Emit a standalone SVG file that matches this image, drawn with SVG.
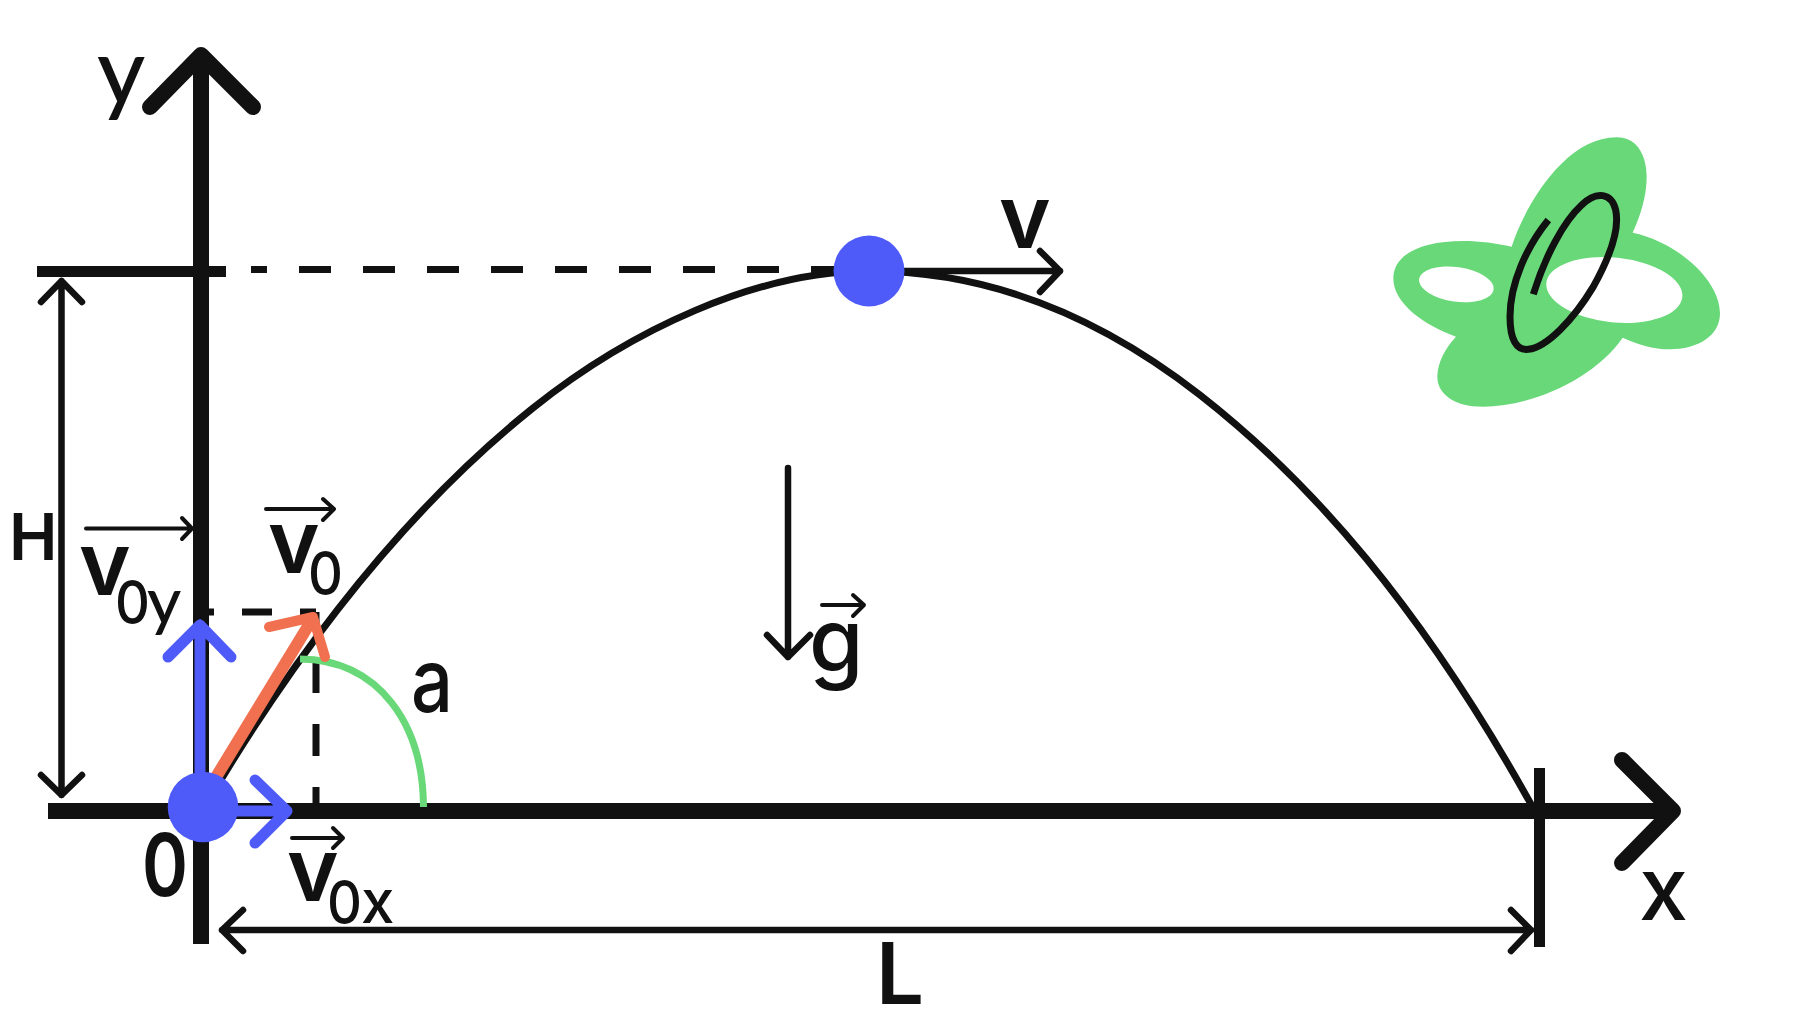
<svg xmlns="http://www.w3.org/2000/svg" width="1808" height="1030" viewBox="0 0 1808 1030">
<style>
.k{fill:none;stroke:#111;stroke-linecap:round;stroke-linejoin:round}
.b{fill:none;stroke:#111;stroke-linecap:butt}
.t{fill:#111;font-family:"Inter","Noto Sans","Liberation Sans",sans-serif;font-weight:600}
.m{fill:#111;font-family:"Inter","Noto Sans","Liberation Sans",sans-serif;font-weight:500}
.l{fill:#111;font-family:"Lato","Inter","Liberation Sans",sans-serif;font-weight:500}
.blue{fill:none;stroke:#4f5bf9;stroke-width:11;stroke-linecap:round;stroke-linejoin:round}
.ball{fill:#4f5bf9}
</style>
<rect width="1808" height="1030" fill="#fff"/>
<g id="logo">
<g transform="translate(1360,110) scale(0.33333)">
<path fill="#68d878" d="M455,410 C490,300 610,82 770,82 C840,82 860,150 860,200 C860,260 840,320 818,368 C950,395 1080,510 1080,610 C1080,680 1010,718 930,718 C880,718 830,702 788,683 C700,810 510,890 370,890 C280,890 232,850 232,800 C232,760 255,715 288,680 C190,645 100,580 100,505 C100,430 190,393 310,393 C360,393 410,400 455,410 Z"/>
<ellipse cx="289" cy="523" rx="113" ry="52" transform="rotate(8 289 523)" fill="#fff"/>
<ellipse cx="763" cy="540" rx="205" ry="97" transform="rotate(6 763 540)" fill="#fff"/>
<path fill="none" stroke="#111" stroke-width="21" d="M565,330 C500,410 450,520 450,620 C450,690 470,722 505,718 C560,712 640,630 700,530 C750,440 780,360 767,300 C755,250 710,240 665,285 C610,335 555,440 520,553"/>
</g>
</g>
<g id="connectors">
<path id="trajectory" class="b" stroke-width="7" d="M204,808 C313.7,621.5 423.3,495.8 533,408 C630,330.4 757,271 869,271 C979,271 1090,309 1200,395 C1310.7,481.5 1421.3,607 1532,806"/>
<path id="y-axis" class="b" stroke-width="16" d="M201,55 V944"/>
<path class="k" stroke-width="16" d="M150,107 L201,55 L253,107"/>
<path id="x-axis" class="b" stroke-width="16" d="M48,811 H1673"/>
<path class="k" stroke-width="16" d="M1622,760 L1673,811 L1622,863"/>
<path id="h-bar" class="b" stroke-width="11" d="M37,271.5 H226"/>
<path id="l-bar" class="b" stroke-width="11" d="M1539.5,768 V947"/>
<path id="top-dash" class="b" stroke-width="7" stroke-dasharray="32 32" stroke-dashoffset="16" d="M251,269.5 H843"/>
<path id="v0-dash-h" class="b" stroke-width="7" d="M205,612 H214 M242,612 H272 M300,612 H316"/>
<path id="v0-dash-v" class="b" stroke-width="7" stroke-dasharray="32 31" stroke-dashoffset="14" d="M316,612 V804"/>
<path id="h-arrow" class="k" stroke-width="6.5" d="M41,302 L61.5,281 L82,302 M61.5,281 V795 M41,775 L61.5,795 L82,775"/>
<path id="l-arrow" class="k" stroke-width="6.5" d="M243,910 L222,930 L243,951 M222,930 H1531 M1511,910 L1531,930 L1511,951"/>
<path id="v-arrow" class="k" stroke-width="6.5" d="M869,271 H1060 M1040,251 L1060,271 L1040,292"/>
<path id="g-arrow" class="k" stroke-width="6.5" d="M788,468 V657 M767,635 L788,657 L810,635"/>
<path id="v0y-over" class="k" stroke-width="4" d="M86,528.5 H192 M182,518 L192,528.5 L182,539"/>
<path id="v0-over" class="k" stroke-width="4" d="M266,509 H334 M323,499 L334,509 L323,520"/>
<path id="v0x-over" class="k" stroke-width="4" d="M292,838 H343 M333,828 L343,838 L333,848"/>
<path id="g-over" class="k" stroke-width="4" d="M822,605 H864 M853,595 L864,605 L853,616"/>
<path id="angle" fill="none" stroke="#68d878" stroke-width="7" d="M300,659 C380,660 423,725 423.5,807"/>
<path id="v0-arrow" fill="none" stroke="#f0704f" stroke-width="12" d="M210,787 L313,618"/>
<path fill="none" stroke="#f0704f" stroke-width="10" stroke-linecap="round" stroke-linejoin="round" d="M269,627 L313,617 L325,657"/>
<path id="v0y-arrow" class="blue" d="M200,800 V625 M168,657 L200,625 L231,657"/>
<path id="v0x-arrow" class="blue" d="M203,811 H287 M255,780 L287,811 L255,843"/>
</g>
<g id="ball-origin"><circle class="ball" cx="203" cy="807" r="35.3"/></g>
<g id="ball-top"><circle class="ball" cx="869" cy="271" r="35.5"/></g>
<g id="labels">
<text class="l" x="97" y="104" font-size="93">y</text>
<text class="m" x="1639" y="920" font-size="88">x</text>
<text class="t" x="999" y="248" font-size="88">v</text>
<text class="t" x="9" y="560" font-size="65">H</text>
<text class="t" x="79" y="595" font-size="88">v</text>
<text class="m" x="115" y="624" font-size="60" textLength="35" lengthAdjust="spacingAndGlyphs">0</text>
<text class="l" x="147" y="624" font-size="66">y</text>
<text class="t" x="268" y="573" font-size="88">v</text>
<text class="m" x="308" y="595" font-size="60" textLength="35" lengthAdjust="spacingAndGlyphs">0</text>
<text class="t" x="287" y="901" font-size="88">v</text>
<text class="m" x="327" y="924" font-size="60" textLength="35" lengthAdjust="spacingAndGlyphs">0</text>
<text class="m" x="361" y="923" font-size="60">x</text>
<text class="t" x="142" y="896" font-size="86" textLength="46" lengthAdjust="spacingAndGlyphs">0</text>
<text class="m" x="411" y="712" font-size="88" textLength="42" lengthAdjust="spacingAndGlyphs">a</text>
<text class="m" x="809" y="672" font-size="88">g</text>
<text class="t" x="876" y="1004" font-size="85">L</text>
</g>
</svg>
